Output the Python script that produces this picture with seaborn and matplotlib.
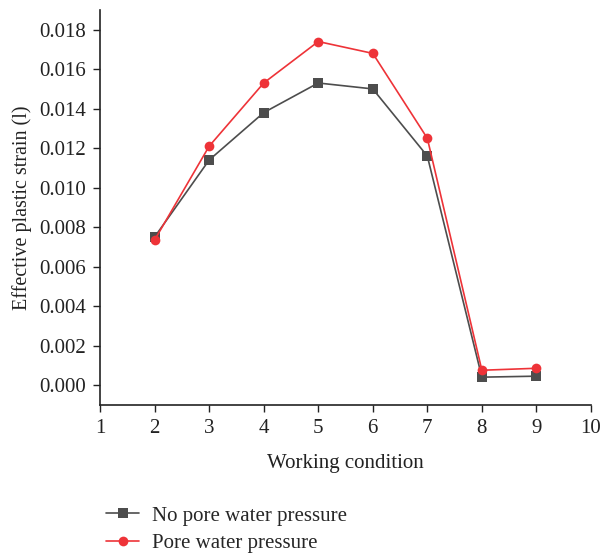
import matplotlib
matplotlib.use("Agg")
import matplotlib.pyplot as plt
import seaborn as sns
import pandas as pd

conditions = [2, 3, 4, 5, 6, 7, 8, 9]
no_pore = [0.0075, 0.0114, 0.0138, 0.0153, 0.0150, 0.0116, 0.0004, 0.00045]
pore = [0.00735, 0.0121, 0.0153, 0.0174, 0.0168, 0.0125, 0.00075, 0.00085]
series_names = ["No pore water pressure", "Pore water pressure"]
colors = ["#4d4d4d", "#ee3338"]

sns.set_style("ticks")
plt.rcParams['font.family'] = ['Liberation Serif', 'DejaVu Serif']

df = pd.DataFrame({
    "Working condition": conditions * 2,
    "strain": no_pore + pore,
    "series": [series_names[0]] * len(conditions) + [series_names[1]] * len(conditions),
})

fig = plt.figure(figsize=(6.03, 5.53), dpi=100)
ax = fig.add_axes([0.166, 0.268, 0.814, 0.714])

sns.lineplot(data=df, x="Working condition", y="strain", hue="series", style="series",
             palette=dict(zip(series_names, colors)),
             markers={series_names[0]: "s", series_names[1]: "o"},
             dashes=False, markersize=7, markeredgewidth=0, linewidth=1.2, ax=ax)

ax.set_xlim(1, 10)
ax.set_ylim(-0.001, 0.019)
ax.set_xticks(range(1, 11))
ax.set_yticks([i * 0.002 for i in range(10)])
ax.set_yticklabels([f"{i*0.002:.3f}" for i in range(10)])
ax.tick_params(labelsize=15, direction="out", length=5, width=1, colors="#222222", pad=5)
for s in ["top", "right"]:
    ax.spines[s].set_visible(False)
for s in ["left", "bottom"]:
    ax.spines[s].set_linewidth(1.2)
    ax.spines[s].set_color("#222222")
ax.set_xlabel("Working condition", fontsize=15, labelpad=12, color="#222222")
ax.set_ylabel("Effective plastic strain (l)", fontsize=14.5, labelpad=5, color="#222222")

ax.legend(title=None, loc="upper left", bbox_to_anchor=(-0.005, -0.235), frameon=False,
          fontsize=15, handlelength=1.6, handletextpad=0.6, labelspacing=0.4, borderaxespad=0)

fig.savefig("out.png", dpi=100)
